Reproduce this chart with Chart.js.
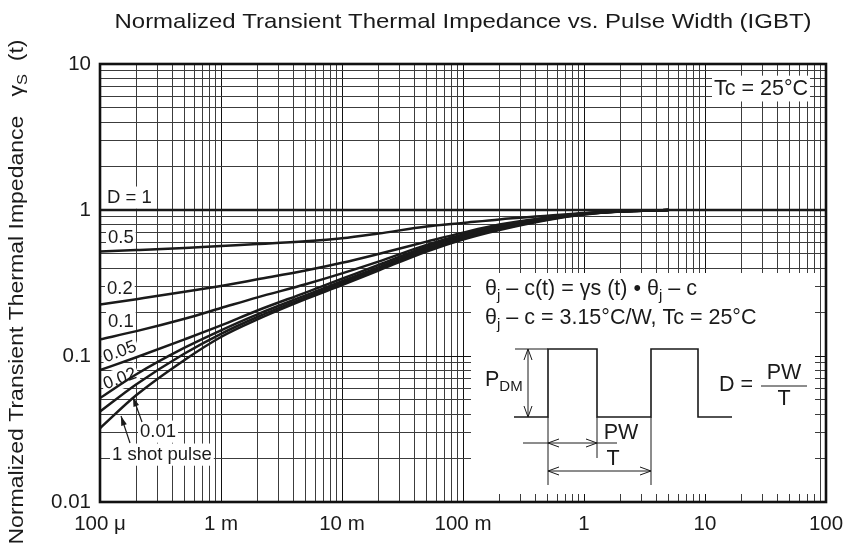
<!DOCTYPE html>
<html>
<head>
<meta charset="utf-8">
<script src="https://cdn.jsdelivr.net/npm/chart.js@4.4.1/dist/chart.umd.min.js"></script>
<style>
html, body { margin: 0; padding: 0; background: #fff; }
#wrap { width: 844px; height: 553px; position: relative; }
</style>
</head>
<body>
<div id="wrap"><canvas id="zthChart"></canvas></div>
<script>
// pulse width (s) and normalized Zth for each duty
var pulseWidth = [1e-4, 2e-4, 5e-4, 1e-3, 2e-3, 5e-3, 1e-2, 2e-2, 5e-2, 0.1, 0.2, 0.5, 1, 2, 5];
var d1Width = [1e-4, 100];
var zthD1 = [1, 1];
var zth05 = [0.52, 0.532, 0.55, 0.567, 0.584, 0.61, 0.64, 0.69, 0.77, 0.815, 0.862, 0.912, 0.953, 0.982, 1.0];
var zth02 = [0.225, 0.245, 0.275, 0.302, 0.335, 0.385, 0.435, 0.5, 0.607, 0.70, 0.795, 0.89, 0.948, 0.98, 1.0];
var zth01 = [0.13, 0.148, 0.18, 0.213, 0.252, 0.31, 0.368, 0.443, 0.577, 0.68, 0.78, 0.885, 0.948, 0.979, 1.0];
var zth005 = [0.08, 0.098, 0.13, 0.162, 0.205, 0.272, 0.338, 0.42, 0.56, 0.662, 0.762, 0.876, 0.944, 0.978, 1.0];
var zth002 = [0.0515, 0.075, 0.114, 0.15, 0.193, 0.26, 0.325, 0.405, 0.545, 0.65, 0.75, 0.868, 0.94, 0.977, 1.0];
var zth001 = [0.0416, 0.064, 0.104, 0.142, 0.185, 0.252, 0.315, 0.395, 0.532, 0.64, 0.74, 0.862, 0.935, 0.976, 1.0];
var zthSingle = [0.032, 0.054, 0.094, 0.135, 0.178, 0.245, 0.306, 0.385, 0.52, 0.628, 0.73, 0.855, 0.93, 0.975, 1.0];

// tick labels
var xTickValues = [1e-4, 1e-3, 1e-2, 1e-1, 1, 10, 100];
var xTickLabels = ['100 \u03bc', '1 m', '10 m', '100 m', '1', '10', '100'];
var yTickValues = [0.01, 0.1, 1, 10];
var yTickLabels = ['0.01', '0.1', '1', '10'];

var FONT = '"Liberation Sans", Arial, Helvetica, sans-serif';
var INK = '#1a1a1a';

function pts(xs, ys) {
    return xs.map(function(x, i) { return { x: x, y: ys[i] }; });
}

// all 1..9 x 10^n grid ticks between the first and last decade
function logTicks(decades) {
    var out = [];
    for (var i = 0; i < decades.length - 1; i++) {
        for (var k = 1; k <= 9; k++) out.push({ value: k * decades[i] });
    }
    out.push({ value: decades[decades.length - 1] });
    return out;
}

function labelFor(value, vals, labels) {
    for (var i = 0; i < vals.length; i++) {
        if (Math.abs(Math.log10(value) - Math.log10(vals[i])) < 1e-6) return labels[i];
    }
    return '';
}

function curve(data) {
    return {
        data: data,
        borderColor: INK,
        borderWidth: 2.5,
        pointRadius: 0,
        fill: false,
        cubicInterpolationMode: 'monotone'
    };
}

// text with subscript parts: [[text, isSub], ...]
function richText(ctx, parts, x, y, size) {
    var cx = x;
    parts.forEach(function(p) {
        if (p[1]) {
            ctx.font = Math.round(size * 0.72) + 'px ' + FONT;
            ctx.fillText(p[0], cx, y + size * 0.3);
        } else {
            ctx.font = size + 'px ' + FONT;
            ctx.fillText(p[0], cx, y);
        }
        cx += ctx.measureText(p[0]).width;
    });
    return cx - x;
}

function richWidth(ctx, parts, size) {
    var w = 0;
    parts.forEach(function(p) {
        ctx.font = (p[1] ? Math.round(size * 0.72) : size) + 'px ' + FONT;
        w += ctx.measureText(p[0]).width;
    });
    return w;
}

function openHead(ctx, x, y, dir) {
    // dir: 1 points right, -1 left, 2 up, -2 down
    ctx.beginPath();
    if (dir === 1 || dir === -1) {
        ctx.moveTo(x - dir * 11, y - 4);
        ctx.lineTo(x, y);
        ctx.lineTo(x - dir * 11, y + 4);
    } else {
        var s = dir === 2 ? 1 : -1;
        ctx.moveTo(x - 4, y + s * 11);
        ctx.lineTo(x, y);
        ctx.lineTo(x + 4, y + s * 11);
    }
    ctx.stroke();
}

function solidArrow(ctx, x0, y0, x1, y1) {
    ctx.beginPath();
    ctx.moveTo(x0, y0);
    ctx.lineTo(x1, y1);
    ctx.stroke();
    var ang = Math.atan2(y1 - y0, x1 - x0);
    ctx.beginPath();
    ctx.moveTo(x1, y1);
    ctx.lineTo(x1 - 10 * Math.cos(ang - 0.3), y1 - 10 * Math.sin(ang - 0.3));
    ctx.lineTo(x1 - 10 * Math.cos(ang + 0.3), y1 - 10 * Math.sin(ang + 0.3));
    ctx.closePath();
    ctx.fill();
}

function boxedLabel(ctx, text, x, y, size, rot) {
    ctx.save();
    ctx.translate(x, y);
    if (rot) ctx.rotate(rot);
    ctx.font = size + 'px ' + FONT;
    var w = ctx.measureText(text).width;
    ctx.fillStyle = '#fff';
    ctx.fillRect(-2, -size * 0.62, w + 4, size * 1.2);
    ctx.fillStyle = INK;
    ctx.textBaseline = 'middle';
    ctx.fillText(text, 0, 0);
    ctx.restore();
}

var decorPlugin = {
    id: 'decor',
    beforeDatasetsDraw: function(chart) {
        var ctx = chart.ctx;
        var a = chart.chartArea;
        var L = a.left, T = a.top;
        ctx.save();
        ctx.textAlign = 'left';
        ctx.textBaseline = 'middle';

        // curve labels on the left
        boxedLabel(ctx, 'D = 1', L + 7, T + 134, 18.5);
        boxedLabel(ctx, '0.5', L + 8, T + 174, 18.5);
        boxedLabel(ctx, '0.2', L + 7, T + 225, 18.5);
        boxedLabel(ctx, '0.1', L + 8, T + 258, 18.5);
        boxedLabel(ctx, '0.05', L + 4, T + 294, 17.5, -0.36);
        boxedLabel(ctx, '0.02', L + 4, T + 321, 17.5, -0.36);
        boxedLabel(ctx, '0.01', L + 40, T + 368, 18.5);
        boxedLabel(ctx, '1 shot pulse', L + 12, T + 391, 18.5);

        // Tc label
        boxedLabel(ctx, 'Tc = 25\u00b0C', L + 614, T + 25, 21.5);

        // inset panel
        ctx.fillStyle = '#fff';
        ctx.fillRect(L + 371, T + 209, 344, 221);
        ctx.restore();
    },
    afterDatasetsDraw: function(chart) {
        var ctx = chart.ctx;
        var a = chart.chartArea;
        var L = a.left, T = a.top;
        ctx.save();
        ctx.fillStyle = INK;
        ctx.strokeStyle = INK;
        ctx.textBaseline = 'middle';
        ctx.textAlign = 'left';

        // inset texts
        richText(ctx, [['\u03b8', 0], ['j', 1], [' \u2013 c(t) = \u03b3s (t) \u2022 \u03b8', 0], ['j', 1], [' \u2013 c', 0]], L + 385, T + 225, 21.5);
        richText(ctx, [['\u03b8', 0], ['j', 1], [' \u2013 c = 3.15\u00b0C/W, Tc = 25\u00b0C', 0]], L + 385, T + 254, 21.5);

        // pulse waveform
        var lo = T + 353, hi = T + 285;
        ctx.lineWidth = 1.6;
        ctx.beginPath();
        ctx.moveTo(L + 414, lo);
        ctx.lineTo(L + 448, lo);
        ctx.lineTo(L + 448, hi);
        ctx.lineTo(L + 497, hi);
        ctx.lineTo(L + 497, lo);
        ctx.lineTo(L + 551, lo);
        ctx.lineTo(L + 551, hi);
        ctx.lineTo(L + 598, hi);
        ctx.lineTo(L + 598, lo);
        ctx.lineTo(L + 632, lo);
        ctx.stroke();
        ctx.lineWidth = 1;
        ctx.beginPath();
        ctx.moveTo(L + 415, hi);
        ctx.lineTo(L + 448, hi);
        // amplitude arrow
        ctx.moveTo(L + 428, hi);
        ctx.lineTo(L + 428, lo);
        // extension lines
        ctx.moveTo(L + 448, lo);
        ctx.lineTo(L + 448, T + 421);
        ctx.moveTo(L + 497, lo);
        ctx.lineTo(L + 497, T + 394);
        ctx.moveTo(L + 551, lo);
        ctx.lineTo(L + 551, T + 421);
        // PW dimension
        ctx.moveTo(L + 423, T + 379);
        ctx.lineTo(L + 517, T + 379);
        // T dimension
        ctx.moveTo(L + 448, T + 407);
        ctx.lineTo(L + 551, T + 407);
        // fraction bar
        ctx.moveTo(L + 661, T + 322);
        ctx.lineTo(L + 707, T + 322);
        ctx.stroke();
        openHead(ctx, L + 428, hi, 2);
        openHead(ctx, L + 428, lo, -2);
        openHead(ctx, L + 448, T + 379, -1);
        openHead(ctx, L + 497, T + 379, 1);
        openHead(ctx, L + 448, T + 407, -1);
        openHead(ctx, L + 551, T + 407, 1);

        richText(ctx, [['P', 0], ['DM', 1]], L + 385, T + 316, 21.5);
        ctx.font = '21.5px ' + FONT;
        ctx.fillText('D =', L + 619, T + 321);
        ctx.textAlign = 'center';
        ctx.fillText('PW', L + 684, T + 309);
        ctx.fillText('T', L + 684, T + 335);
        ctx.fillText('PW', L + 521, T + 369);
        ctx.fillText('T', L + 513, T + 395);

        // pointer arrows for 0.01 and single pulse
        ctx.lineWidth = 1.2;
        solidArrow(ctx, L + 42, T + 358, L + 33, T + 333);
        solidArrow(ctx, L + 30, T + 379, L + 21, T + 352);

        // frame
        ctx.lineWidth = 2.6;
        ctx.strokeStyle = '#111';
        ctx.strokeRect(a.left, a.top, a.right - a.left, a.bottom - a.top);
        ctx.restore();
    },
    afterDraw: function(chart) {
        var ctx = chart.ctx;
        var a = chart.chartArea;
        ctx.save();
        ctx.fillStyle = INK;
        ctx.textBaseline = 'middle';
        ctx.textAlign = 'center';

        // title, stretched to the reference width
        var title = 'Normalized Transient Thermal Impedance vs. Pulse Width (IGBT)';
        ctx.font = '21px ' + FONT;
        var tw = ctx.measureText(title).width;
        ctx.save();
        ctx.translate((a.left + a.right) / 2, 22);
        ctx.scale(697 / tw, 1);
        ctx.fillText(title, 0, 0);
        ctx.restore();

        // y axis title with subscript
        var parts = [['Normalized Transient Thermal Impedance   \u03b3', 0], ['S', 1], ['  (t)', 0]];
        var w = richWidth(ctx, parts, 21);
        ctx.translate(17, 292);
        ctx.rotate(-Math.PI / 2);
        ctx.scale(505 / w, 1);
        ctx.textAlign = 'left';
        richText(ctx, parts, -w / 2, 0, 21);
        ctx.restore();
    }
};

var ctx = document.getElementById('zthChart').getContext('2d');
new Chart(ctx, {
    type: 'line',
    data: {
        datasets: [
            curve(pts(d1Width, zthD1)),
            curve(pts(pulseWidth, zth05)),
            curve(pts(pulseWidth, zth02)),
            curve(pts(pulseWidth, zth01)),
            curve(pts(pulseWidth, zth005)),
            curve(pts(pulseWidth, zth002)),
            curve(pts(pulseWidth, zth001)),
            curve(pts(pulseWidth, zthSingle))
        ]
    },
    options: {
        responsive: true,
        maintainAspectRatio: false,
        animation: false,
        layout: { padding: { left: 0, top: 64, right: 18, bottom: 0 } },
        plugins: {
            legend: { display: false },
            tooltip: { enabled: false },
            title: { display: false }
        },
        scales: {
            x: {
                type: 'logarithmic',
                min: 1e-4,
                max: 100,
                afterBuildTicks: function(scale) { scale.ticks = logTicks(xTickValues); },
                afterFit: function(scale) {
                    scale.height = 51;
                    scale.paddingLeft = 0;
                    scale.paddingRight = 0;
                },
                border: { display: false },
                grid: {
                    drawTicks: false,
                    lineWidth: 1,
                    color: function(c) { return c.tick && labelFor(c.tick.value, xTickValues, xTickLabels) ? '#111' : '#3c3c3c'; }
                },
                ticks: {
                    autoSkip: false,
                    maxRotation: 0,
                    padding: 10,
                    color: INK,
                    font: { family: FONT, size: 20.5 },
                    callback: function(v) { return labelFor(v, xTickValues, xTickLabels); }
                }
            },
            y: {
                type: 'logarithmic',
                min: 0.01,
                max: 10,
                afterBuildTicks: function(scale) { scale.ticks = logTicks(yTickValues); },
                afterFit: function(scale) { scale.width = 100; },
                border: { display: false },
                grid: {
                    drawTicks: false,
                    lineWidth: 1,
                    color: function(c) { return c.tick && labelFor(c.tick.value, yTickValues, yTickLabels) ? '#111' : '#3c3c3c'; }
                },
                ticks: {
                    autoSkip: false,
                    padding: 9,
                    color: INK,
                    font: { family: FONT, size: 20.5 },
                    callback: function(v) { return labelFor(v, yTickValues, yTickLabels); }
                }
            }
        }
    },
    plugins: [decorPlugin]
});
</script>
</body>
</html>
